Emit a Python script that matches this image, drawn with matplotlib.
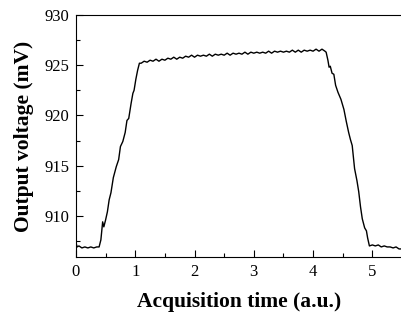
import matplotlib
matplotlib.use("Agg")
import matplotlib.pyplot as plt
from matplotlib.ticker import MultipleLocator

# Okunan veri noktaları (zaman, a.u. / gerilim, mV)
t_rise = [0.00, 0.02, 0.05, 0.10, 0.15, 0.20, 0.25, 0.30, 0.35, 0.39, 0.42, 0.45, 0.47,
          0.50, 0.53, 0.56, 0.59, 0.63, 0.68, 0.72, 0.75, 0.79, 0.83, 0.86, 0.89, 0.93,
          0.96, 0.98, 1.01, 1.04, 1.07]
v_rise = [907.3, 906.9, 907.0, 906.8, 906.9, 906.8, 906.9, 906.8, 906.9, 906.9, 907.6, 909.4, 908.9,
          909.6, 910.4, 911.6, 912.3, 913.8, 914.9, 915.6, 916.9, 917.4, 918.3, 919.5, 919.7, 921.2,
          922.2, 922.5, 923.6, 924.5, 925.2]

t_flat = [1.10, 1.15, 1.20, 1.25, 1.30, 1.35, 1.40, 1.45, 1.50, 1.55, 1.60, 1.65, 1.70, 1.75,
          1.80, 1.85, 1.90, 1.95, 2.00, 2.05, 2.10, 2.15, 2.20, 2.25, 2.30, 2.35, 2.40, 2.45,
          2.50, 2.55, 2.60, 2.65, 2.70, 2.75, 2.80, 2.85, 2.90, 2.95, 3.00, 3.05, 3.10, 3.15,
          3.20, 3.25, 3.30, 3.35, 3.40, 3.45, 3.50, 3.55, 3.60, 3.65, 3.70, 3.75, 3.80, 3.85,
          3.90, 3.95, 4.00, 4.05, 4.10, 4.15, 4.20]
v_flat = [925.2, 925.4, 925.3, 925.5, 925.4, 925.6, 925.4, 925.6, 925.5, 925.7, 925.6, 925.8, 925.6, 925.8,
          925.7, 925.9, 925.8, 926.0, 925.8, 926.0, 925.9, 926.0, 925.9, 926.1, 925.9, 926.1, 926.0, 926.1,
          926.0, 926.2, 926.0, 926.2, 926.1, 926.2, 926.1, 926.3, 926.1, 926.3, 926.2, 926.3, 926.2, 926.3,
          926.2, 926.4, 926.2, 926.4, 926.3, 926.4, 926.3, 926.4, 926.3, 926.5, 926.3, 926.5, 926.3, 926.5,
          926.4, 926.5, 926.4, 926.6, 926.4, 926.6, 926.4]

t_fall = [4.22, 4.25, 4.27, 4.29, 4.32, 4.35, 4.38, 4.42, 4.47, 4.52, 4.56, 4.60, 4.63, 4.66,
          4.70, 4.74, 4.77, 4.80, 4.83, 4.87, 4.90, 4.92, 4.95, 5.00, 5.05, 5.10, 5.15, 5.20,
          5.25, 5.30, 5.35, 5.40, 5.45, 5.50]
v_fall = [926.3, 925.5, 924.8, 924.9, 924.2, 924.1, 923.0, 922.3, 921.6, 920.6, 919.4, 918.3, 917.6, 917.0,
          914.7, 913.5, 912.4, 910.9, 909.7, 908.8, 908.5, 907.8, 907.0, 907.1, 907.0, 907.1, 906.9, 907.0,
          906.9, 906.9, 906.8, 906.9, 906.7, 906.7]

t = t_rise + t_flat + t_fall
v = v_rise + v_flat + v_fall

x_ticks = [0, 1, 2, 3, 4, 5]
y_ticks = [910, 915, 920, 925, 930]

plt.rcParams["font.family"] = ["Liberation Serif", "DejaVu Serif"]

fig = plt.figure(figsize=(4.02, 3.13), dpi=100)
ax = fig.add_axes([0.189, 0.179, 0.811, 0.773])

ax.plot(t, v, color="black", linewidth=1.0)

ax.set_xlim(0, 5.5)
ax.set_ylim(905.9, 930)
ax.set_xticks(x_ticks)
ax.set_yticks(y_ticks)
ax.xaxis.set_minor_locator(MultipleLocator(0.5))
ax.yaxis.set_minor_locator(MultipleLocator(2.5))
ax.tick_params(which="major", direction="in", length=5, width=0.8, labelsize=12, pad=5)
ax.tick_params(which="minor", direction="in", length=3, width=0.8)
ax.spines["right"].set_visible(False)

ax.set_xlabel("Acquisition time (a.u.)", fontsize=15.5, fontweight="bold", labelpad=9)
ax.set_ylabel("Output voltage (mV)", fontsize=15.5, fontweight="bold", labelpad=7)

fig.savefig("out.png", dpi=100)
